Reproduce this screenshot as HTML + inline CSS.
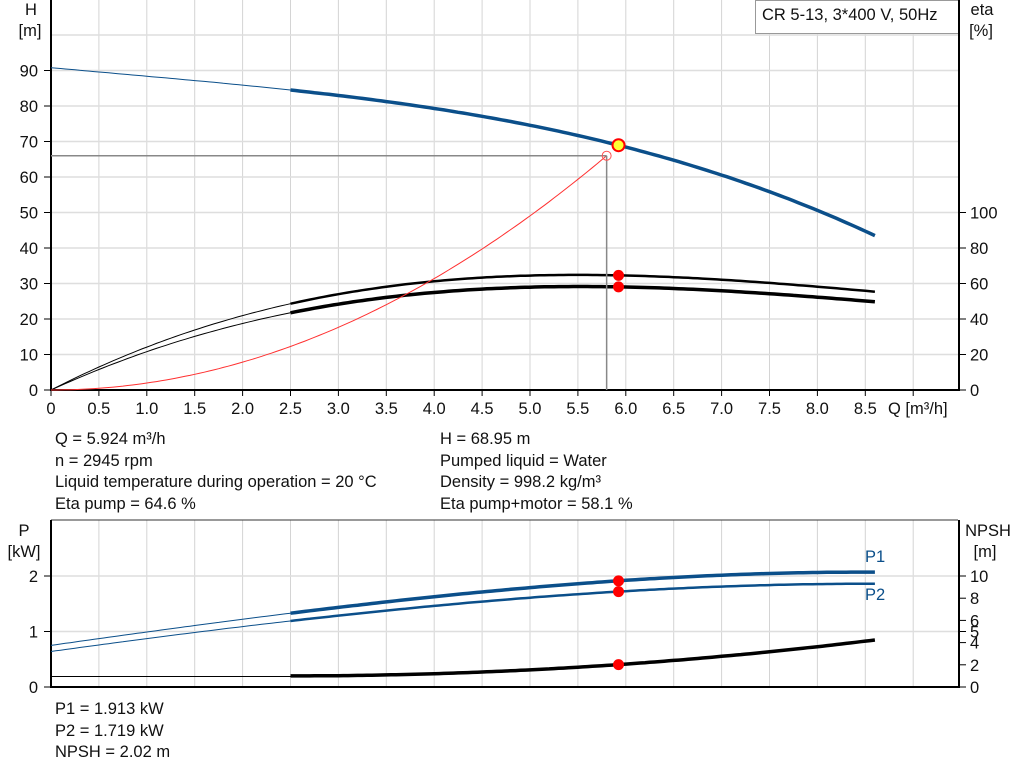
<!DOCTYPE html>
<html><head><meta charset="utf-8"><style>
html,body{margin:0;padding:0;background:#fff;width:1024px;height:781px;overflow:hidden}
svg text{font-family:"Liberation Sans",Arial,sans-serif;font-size:16.5px;fill:#111}
.info{position:absolute;font-family:"Liberation Sans",Arial,sans-serif;font-size:16.5px;color:#111;line-height:21.5px;white-space:nowrap}
</style></head><body>
<svg id="s" width="1024" height="781" style="position:absolute;left:0;top:0"></svg>
<div class="info" style="left:55px;top:429px">Q = 5.924 m³/h<br>n = 2945 rpm<br>Liquid temperature during operation = 20 °C<br>Eta pump = 64.6 %</div>
<div class="info" style="left:440px;top:429px">H = 68.95 m<br>Pumped liquid = Water<br>Density = 998.2 kg/m³<br>Eta pump+motor = 58.1 %</div>
<div class="info" style="left:55px;top:699px">P1 = 1.913 kW<br>P2 = 1.719 kW<br>NPSH = 2.02 m</div>
<script>
var s='';
function X(q){return 51+95.8*q;}
function YH(h){return 390-3.55*h;}
function YE(e){return 390-1.775*e;}
function YP(p){return 687-55.5*p;}
function YN(n){return 687-11.1*n;}
function lag(pts){return function(x){var r=0;for(var i=0;i<pts.length;i++){var t=pts[i][1];for(var j=0;j<pts.length;j++)if(j!=i)t*=(x-pts[j][0])/(pts[i][0]-pts[j][0]);r+=t;}return r;};}
function path(f,y,a,b,col,w){var d='';for(var q=a;q<=b+1e-9;q+=0.05){d+=(d?'L':'M')+X(q).toFixed(1)+','+y(f(q)).toFixed(1);}s+='<path d="'+d+'" fill="none" stroke="'+col+'" stroke-width="'+w+'"/>';}
function L(x1,y1,x2,y2,c,w){s+='<line x1="'+x1+'" y1="'+y1+'" x2="'+x2+'" y2="'+y2+'" stroke="'+c+'" stroke-width="'+w+'"/>';}
function T(x,y,t,a){s+='<text x="'+x+'" y="'+y+'" text-anchor="'+(a||'start')+'">'+t+'</text>';}
for(var i=1;i<=19;i++){var x=X(i*0.5);if(x<958)L(x,0,x,390,'#d4d4d4',1);}
for(var h=10;h<=100;h+=10)L(51,YH(h),958,YH(h),'#dedede',1.5);
for(var i=1;i<=19;i++){var x=X(i*0.5);if(x<958)L(x,520,x,687,'#d4d4d4',1);}
L(51,YP(1),958,YP(1),'#dedede',1.5);L(51,YP(2),958,YP(2),'#dedede',1.5);
L(51,520,958,520,'#333',1);
s+='<rect x="755.5" y="0.5" width="203" height="33" fill="#fff" stroke="#999" stroke-width="1"/>';
T(762,20,'CR 5-13, 3*400 V, 50Hz');
L(51,0,51,391,'#000',2);L(50,390,959,390,'#000',2);L(959,0,959,391,'#000',2);
for(var h=0;h<=90;h+=10){L(44,YH(h),51,YH(h),'#000',1);T(38,YH(h)+6,h,'end');}
for(var e=0;e<=100;e+=20){L(959,YE(e),966,YE(e),'#000',1);T(970,YE(e)+6,e);}
for(var i=0;i<=18;i++){var x=X(i*0.5);L(x,390,x,396,'#000',1);if(i<=17)T(x,414,i==0?'0':(i*0.5).toFixed(1),'middle');}
T(888,414,'Q [m³/h]');
T(31,15,'H','middle');T(30,36,'[m]','middle');
T(982,15,'eta','middle');T(981,36,'[%]','middle');
L(51,520,51,688,'#000',2);L(50,687,959,687,'#000',2);L(959,520,959,688,'#000',2);
[0,1,2].forEach(function(p){L(44,YP(p),51,YP(p),'#000',1);T(38,YP(p)+6,p,'end');});
[0,2,4,5,6,8,10].forEach(function(n){L(959,YN(n),966,YN(n),'#000',1);T(970,YN(n)+6,n);});
T(24,536,'P','middle');T(24,557,'[kW]','middle');
T(988,536,'NPSH','middle');T(985,557,'[m]','middle');
var blue='#0b4f8a';
var H=lag([[0,90.8],[2.5,84.5],[5.924,68.95],[8.6,43.5]]);
path(H,YH,0,2.5,blue,1);path(H,YH,2.5,8.6,blue,3.5);
var E1=lag([[0,0],[2.5,48.6],[5.924,64.6],[8.6,55.4]]);
var E2=lag([[0,0],[2.5,43.5],[5.924,58.1],[8.6,49.7]]);
path(E1,YE,0,2.5,'#000',1);path(E1,YE,2.5,8.6,'#000',2.5);
path(E2,YE,0,2.5,'#000',1);path(E2,YE,2.5,8.6,'#000',3.5);
path(function(q){return 1.962*q*q;},YH,0,5.8,'#ff3030',1);
L(51,YH(66),X(5.8),YH(66),'#888',1.5);L(X(5.8),YH(66),X(5.8),390,'#888',1.5);
s+='<circle cx="'+X(5.8)+'" cy="'+YH(66)+'" r="4.5" fill="none" stroke="#ff5050" stroke-width="1"/>';
var P1=lag([[0,0.75],[2.5,1.33],[5.924,1.913],[8.6,2.07]]);
var P2=lag([[0,0.64],[2.5,1.19],[5.924,1.719],[8.6,1.86]]);
path(P1,YP,0,2.5,blue,1);path(P1,YP,2.5,8.6,blue,3.5);
path(P2,YP,0,2.5,blue,1);path(P2,YP,2.5,8.6,blue,2.5);
L(51,YN(0.95),X(2.5),YN(0.95),'#000',1);
path(function(q){return 1+0.087*(q-2.5)*(q-2.5);},YN,2.5,8.6,'#000',3.5);
s+='<text x="865" y="562" style="fill:'+blue+'">P1</text><text x="865" y="600" style="fill:'+blue+'">P2</text>';
var qo=X(5.924);
[YE(64.6),YE(58.1),YP(1.913),YP(1.719),YN(2.02)].forEach(function(y){s+='<circle cx="'+qo+'" cy="'+y+'" r="5.5" fill="#ff0000"/>';});
s+='<circle cx="'+qo+'" cy="'+YH(68.95)+'" r="6" fill="#ffff33" stroke="#ff0000" stroke-width="2"/>';
document.getElementById('s').innerHTML=s;
</script>
</body></html>
